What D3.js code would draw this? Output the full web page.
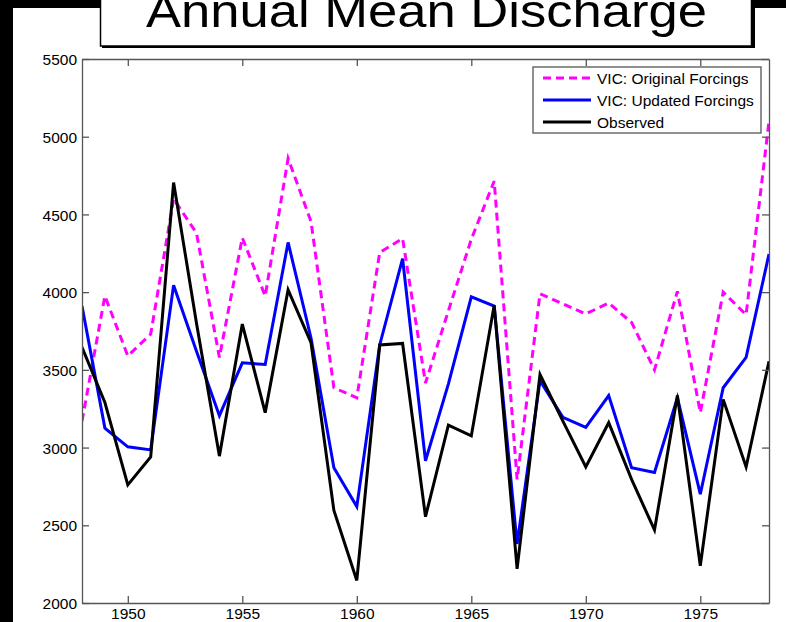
<!DOCTYPE html>
<html>
<head>
<meta charset="utf-8">
<script src="https://cdn.jsdelivr.net/npm/d3@7"></script>
<style>
body { margin: 0; background: #000; }
svg { display: block; font-family: "Liberation Sans", Arial, sans-serif; }
</style>
</head>
<body>
<div id="chart"></div>
<script>
// years on the x axis
var years = d3.range(1948, 1979);

// VIC: Original Forcings (magenta dashed)
var original = [3170, 3975, 3590, 3730, 4600, 4380, 3580, 4350, 3975, 4860,
	4455, 3385, 3320, 4255, 4345, 3415, 3880, 4340, 4715, 2795,
	3990, 3925, 3860, 3930, 3805, 3500, 4005, 3225, 4000, 3855, 5100];

// VIC: Updated Forcings (blue)
var updated = [3910, 3125, 3005, 2985, 4045, 3620, 3205, 3545, 3535, 4320,
	3705, 2870, 2620, 3660, 4215, 2915, 3410, 3970, 3910, 2380,
	3430, 3195, 3130, 3335, 2870, 2840, 3320, 2700, 3385, 3580, 4245];

// Observed (black)
var observed = [3645, 3290, 2760, 2940, 4705, 3800, 2945, 3795, 3225, 4015,
	3675, 2595, 2145, 3660, 3670, 2555, 3145, 3075, 3915, 2220,
	3470, 3170, 2875, 3160, 2795, 2470, 3335, 2240, 3310, 2875, 3555];

var seriesNames = ["VIC: Original Forcings", "VIC: Updated Forcings", "Observed"];
var xTicks = [1950, 1955, 1960, 1965, 1970, 1975];
var yTicks = [2000, 2500, 3000, 3500, 4000, 4500, 5000, 5500];
var titleText = "Annual Mean Discharge";

var W = 786, H = 622;
// plot box (note: "top" is reserved on window, so use px* names)
var pxLeft = 82, pxRight = 769, pxTop = 59, pxBottom = 603;

var svg = d3.select("#chart")
	.append("svg")
	.attr("width", W)
	.attr("height", H);

// white page area, black frame on left and top
svg.append("rect").attr("x", 0).attr("y", 0).attr("width", W).attr("height", H).attr("fill", "#000");
svg.append("rect").attr("x", 13).attr("y", 8).attr("width", W - 13).attr("height", H - 8).attr("fill", "#fff");

var x = d3.scaleLinear().domain([1948, 1978]).range([pxLeft, pxRight]);
var y = d3.scaleLinear().domain([2000, 5500]).range([pxBottom, pxTop]);

var axisColor = "#555";

// lines
var line = d3.line()
	.x(function(d, i) { return x(years[i]); })
	.y(function(d) { return y(d); });

svg.append("clipPath").attr("id", "plotClip")
	.append("rect").attr("x", pxLeft).attr("y", pxTop).attr("width", pxRight - pxLeft).attr("height", pxBottom - pxTop);

var lines = svg.append("g").attr("clip-path", "url(#plotClip)");

var styles = [
	{ data: original, color: "#ff00ff", width: 3, dash: "8,5" },
	{ data: updated, color: "#0000ff", width: 3, dash: null },
	{ data: observed, color: "#000000", width: 3, dash: null }
];

styles.forEach(function(s) {
	lines.append("path")
		.datum(s.data)
		.attr("fill", "none")
		.attr("stroke", s.color)
		.attr("stroke-width", s.width)
		.attr("stroke-linejoin", "miter")
		.attr("stroke-dasharray", s.dash)
		.attr("d", line);
});

// axes (ticks inward, like matlab)
var gx = svg.append("g")
	.attr("transform", "translate(0," + pxBottom + ")")
	.call(d3.axisBottom(x).tickValues(xTicks).tickFormat(d3.format("d")).tickSizeInner(-7).tickSizeOuter(0).tickPadding(5));
var gxTop = svg.append("g")
	.attr("transform", "translate(0," + pxTop + ")")
	.call(d3.axisTop(x).tickValues(xTicks).tickFormat("").tickSizeInner(-7).tickSizeOuter(0));
var gy = svg.append("g")
	.attr("transform", "translate(" + pxLeft + ",0)")
	.call(d3.axisLeft(y).tickValues(yTicks).tickFormat(d3.format("d")).tickSizeInner(-7).tickSizeOuter(0).tickPadding(5));
var gyRight = svg.append("g")
	.attr("transform", "translate(" + pxRight + ",0)")
	.call(d3.axisRight(y).tickValues(yTicks).tickFormat("").tickSizeInner(-7).tickSizeOuter(0));

svg.selectAll(".domain, .tick line").attr("stroke", axisColor).attr("stroke-width", 1.3);
svg.selectAll(".tick text")
	.attr("fill", "#000")
	.style("font-size", "15.5px")
	.style("font-family", "'Liberation Sans', Arial, sans-serif");
gy.selectAll(".tick text").attr("dy", "0.36em");

// legend
var legend = svg.append("g").attr("transform", "translate(533,67)");
legend.append("rect")
	.attr("width", 228)
	.attr("height", 66)
	.attr("fill", "#fff")
	.attr("stroke", axisColor)
	.attr("stroke-width", 1.3);

styles.forEach(function(s, i) {
	var ly = 11 + i * 22;
	legend.append("line")
		.attr("x1", 10).attr("x2", 58)
		.attr("y1", ly).attr("y2", ly)
		.attr("stroke", s.color)
		.attr("stroke-width", s.width)
		.attr("stroke-dasharray", s.dash);
	legend.append("text")
		.attr("x", 64)
		.attr("y", ly)
		.attr("dy", "0.36em")
		.style("font-size", "15.5px")
		.text(seriesNames[i]);
});

// title box (slide overlay)
svg.append("rect")
	.attr("x", 102).attr("y", -5).attr("width", 653).attr("height", 53)
	.attr("fill", "#000");
svg.append("rect")
	.attr("x", 100.5).attr("y", -5).attr("width", 651).attr("height", 51)
	.attr("fill", "#fff")
	.attr("stroke", "#000")
	.attr("stroke-width", 1.5);
svg.append("text")
	.attr("x", 146)
	.attr("y", 27)
	.attr("textLength", 561)
	.attr("lengthAdjust", "spacingAndGlyphs")
	.style("font-size", "47px")
	.text(titleText);
</script>
</body>
</html>
